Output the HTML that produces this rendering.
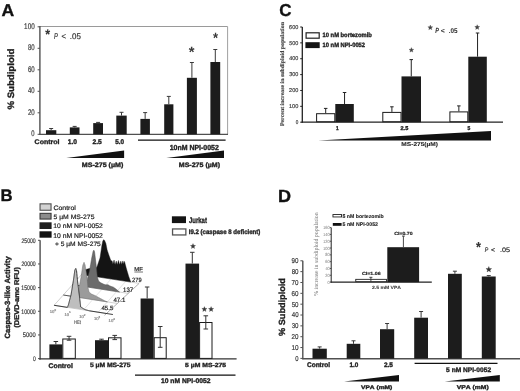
<!DOCTYPE html>
<html><head><meta charset="utf-8"><style>
html,body{margin:0;padding:0;background:#fff;overflow:hidden}
svg{display:block;will-change:transform;text-rendering:geometricPrecision}
</style></head><body>
<svg width="520" height="391" viewBox="0 0 520 391" shape-rendering="auto">
<rect width="520" height="391" fill="#fff"/>
<text transform="translate(1.56,15.60) scale(1.0255,1)" style="font-family:'Liberation Sans', sans-serif;font-weight:bold;font-style:normal;font-size:17.151px;font-kerning:none;font-variant-ligatures:none" fill="#111" stroke="#111" stroke-width="0.350">A</text>
<line x1="39.90" y1="26.50" x2="227.60" y2="26.50" stroke="#9a9a9a" stroke-width="1"/>
<line x1="227.60" y1="26.50" x2="227.60" y2="134.30" stroke="#a0a0a0" stroke-width="1"/>
<line x1="39.90" y1="26.00" x2="39.90" y2="134.90" stroke="#505050" stroke-width="1.4"/>
<line x1="39.20" y1="134.30" x2="228.00" y2="134.30" stroke="#505050" stroke-width="1.3"/>
<line x1="37.60" y1="134.30" x2="39.90" y2="134.30" stroke="#505050" stroke-width="1"/>
<text transform="translate(31.37,136.02) scale(0.7150,1)" style="font-family:'Liberation Sans', sans-serif;font-weight:normal;font-style:normal;font-size:8.192px;font-kerning:none;font-variant-ligatures:none" fill="#3c3c3c" stroke="#3c3c3c" stroke-width="0.200">0</text>
<line x1="37.60" y1="112.80" x2="39.90" y2="112.80" stroke="#505050" stroke-width="1"/>
<text transform="translate(27.90,114.52) scale(0.7399,1)" style="font-family:'Liberation Sans', sans-serif;font-weight:normal;font-style:normal;font-size:8.192px;font-kerning:none;font-variant-ligatures:none" fill="#3c3c3c" stroke="#3c3c3c" stroke-width="0.200">20</text>
<line x1="37.60" y1="91.30" x2="39.90" y2="91.30" stroke="#505050" stroke-width="1"/>
<text transform="translate(28.06,93.02) scale(0.7206,1)" style="font-family:'Liberation Sans', sans-serif;font-weight:normal;font-style:normal;font-size:8.192px;font-kerning:none;font-variant-ligatures:none" fill="#3c3c3c" stroke="#3c3c3c" stroke-width="0.200">40</text>
<line x1="37.60" y1="69.80" x2="39.90" y2="69.80" stroke="#505050" stroke-width="1"/>
<text transform="translate(27.89,71.52) scale(0.7402,1)" style="font-family:'Liberation Sans', sans-serif;font-weight:normal;font-style:normal;font-size:8.192px;font-kerning:none;font-variant-ligatures:none" fill="#3c3c3c" stroke="#3c3c3c" stroke-width="0.200">60</text>
<line x1="37.60" y1="48.30" x2="39.90" y2="48.30" stroke="#505050" stroke-width="1"/>
<text transform="translate(27.94,50.02) scale(0.7349,1)" style="font-family:'Liberation Sans', sans-serif;font-weight:normal;font-style:normal;font-size:8.192px;font-kerning:none;font-variant-ligatures:none" fill="#3c3c3c" stroke="#3c3c3c" stroke-width="0.200">80</text>
<line x1="37.60" y1="26.80" x2="39.90" y2="26.80" stroke="#505050" stroke-width="1"/>
<text transform="translate(24.12,28.52) scale(0.7702,1)" style="font-family:'Liberation Sans', sans-serif;font-weight:normal;font-style:normal;font-size:8.192px;font-kerning:none;font-variant-ligatures:none" fill="#3c3c3c" stroke="#3c3c3c" stroke-width="0.200">100</text>
<rect x="46.00" y="130.20" width="10.30" height="4.10" fill="#1c1c1c"/>
<line x1="51.15" y1="130.20" x2="51.15" y2="128.50" stroke="#3a3a3a" stroke-width="1"/>
<line x1="49.15" y1="128.50" x2="53.15" y2="128.50" stroke="#3a3a3a" stroke-width="1"/>
<rect x="69.80" y="127.40" width="9.70" height="6.90" fill="#1c1c1c"/>
<line x1="74.65" y1="127.40" x2="74.65" y2="126.40" stroke="#3a3a3a" stroke-width="1"/>
<line x1="72.65" y1="126.40" x2="76.65" y2="126.40" stroke="#3a3a3a" stroke-width="1"/>
<rect x="93.20" y="123.10" width="9.80" height="11.20" fill="#1c1c1c"/>
<line x1="98.10" y1="123.10" x2="98.10" y2="122.40" stroke="#3a3a3a" stroke-width="1"/>
<line x1="96.10" y1="122.40" x2="100.10" y2="122.40" stroke="#3a3a3a" stroke-width="1"/>
<rect x="116.30" y="115.60" width="10.40" height="18.70" fill="#1c1c1c"/>
<line x1="121.50" y1="115.60" x2="121.50" y2="112.30" stroke="#3a3a3a" stroke-width="1"/>
<line x1="119.50" y1="112.30" x2="123.50" y2="112.30" stroke="#3a3a3a" stroke-width="1"/>
<rect x="140.40" y="118.90" width="9.50" height="15.40" fill="#1c1c1c"/>
<line x1="145.15" y1="118.90" x2="145.15" y2="112.60" stroke="#3a3a3a" stroke-width="1"/>
<line x1="143.15" y1="112.60" x2="147.15" y2="112.60" stroke="#3a3a3a" stroke-width="1"/>
<rect x="164.20" y="104.30" width="9.20" height="30.00" fill="#1c1c1c"/>
<line x1="168.80" y1="104.30" x2="168.80" y2="96.40" stroke="#3a3a3a" stroke-width="1"/>
<line x1="166.80" y1="96.40" x2="170.80" y2="96.40" stroke="#3a3a3a" stroke-width="1"/>
<rect x="186.90" y="77.80" width="10.00" height="56.50" fill="#1c1c1c"/>
<line x1="191.90" y1="77.80" x2="191.90" y2="62.50" stroke="#3a3a3a" stroke-width="1"/>
<line x1="189.90" y1="62.50" x2="193.90" y2="62.50" stroke="#3a3a3a" stroke-width="1"/>
<rect x="210.40" y="62.00" width="9.80" height="72.30" fill="#1c1c1c"/>
<line x1="215.30" y1="62.00" x2="215.30" y2="49.50" stroke="#3a3a3a" stroke-width="1"/>
<line x1="213.30" y1="49.50" x2="217.30" y2="49.50" stroke="#3a3a3a" stroke-width="1"/>
<text transform="translate(188.86,56.77) scale(1.0009,1)" style="font-family:'Liberation Sans', sans-serif;font-weight:bold;font-style:normal;font-size:14.782px;font-kerning:none;font-variant-ligatures:none" fill="#3a3a3a">*</text>
<text transform="translate(212.96,42.75) scale(0.8623,1)" style="font-family:'Liberation Sans', sans-serif;font-weight:bold;font-style:normal;font-size:15.051px;font-kerning:none;font-variant-ligatures:none" fill="#3a3a3a">*</text>
<text transform="translate(45.26,38.62) scale(0.8915,1)" style="font-family:'Liberation Sans', sans-serif;font-weight:bold;font-style:normal;font-size:13.976px;font-kerning:none;font-variant-ligatures:none" fill="#333" stroke="#333" stroke-width="0.050">*</text>
<text transform="translate(54.12,38.90) scale(0.6968,1)" style="font-family:'Liberation Sans', sans-serif;font-weight:normal;font-style:italic;font-size:8.430px;font-kerning:none;font-variant-ligatures:none" fill="#333" stroke="#333" stroke-width="0.200">P</text>
<text transform="translate(61.51,38.82) scale(0.9457,1)" style="font-family:'Liberation Sans', sans-serif;font-weight:normal;font-style:normal;font-size:8.271px;font-kerning:none;font-variant-ligatures:none" fill="#333" stroke="#333" stroke-width="0.200">&lt;</text>
<text transform="translate(69.87,38.82) scale(0.9713,1)" style="font-family:'Liberation Sans', sans-serif;font-weight:normal;font-style:normal;font-size:8.192px;font-kerning:none;font-variant-ligatures:none" fill="#333" stroke="#333" stroke-width="0.200">.05</text>
<text transform="rotate(-90) translate(-109.54,13.89) scale(1.0419,1)" style="font-family:'Liberation Sans', sans-serif;font-weight:bold;font-style:normal;font-size:9.226px;font-kerning:none;font-variant-ligatures:none" fill="#1e1e1e" stroke="#1e1e1e" stroke-width="0.350">% Subdiploid</text>
<text transform="translate(34.61,144.13) scale(1.0535,1)" style="font-family:'Liberation Sans', sans-serif;font-weight:bold;font-style:normal;font-size:6.672px;font-kerning:none;font-variant-ligatures:none" fill="#1e1e1e" stroke="#1e1e1e" stroke-width="0.350">Control</text>
<text transform="translate(67.68,144.13) scale(0.9863,1)" style="font-family:'Liberation Sans', sans-serif;font-weight:bold;font-style:normal;font-size:6.780px;font-kerning:none;font-variant-ligatures:none" fill="#1e1e1e" stroke="#1e1e1e" stroke-width="0.350">1.0</text>
<text transform="translate(92.47,144.13) scale(0.9888,1)" style="font-family:'Liberation Sans', sans-serif;font-weight:bold;font-style:normal;font-size:6.780px;font-kerning:none;font-variant-ligatures:none" fill="#1e1e1e" stroke="#1e1e1e" stroke-width="0.350">2.5</text>
<text transform="translate(115.20,144.13) scale(0.9398,1)" style="font-family:'Liberation Sans', sans-serif;font-weight:bold;font-style:normal;font-size:6.780px;font-kerning:none;font-variant-ligatures:none" fill="#1e1e1e" stroke="#1e1e1e" stroke-width="0.350">5.0</text>
<polygon points="66.30,158.00 124.10,150.60 124.10,158.00" fill="#111" stroke="none" stroke-width="1"/>
<text transform="translate(81.83,166.66) scale(1.1026,1)" style="font-family:'Liberation Sans', sans-serif;font-weight:bold;font-style:normal;font-size:6.434px;font-kerning:none;font-variant-ligatures:none" fill="#1e1e1e" stroke="#1e1e1e" stroke-width="0.350">MS-275 (µM)</text>
<line x1="138.00" y1="140.20" x2="225.60" y2="140.20" stroke="#111" stroke-width="1.2"/>
<text transform="translate(169.66,149.73) scale(0.9513,1)" style="font-family:'Liberation Sans', sans-serif;font-weight:bold;font-style:normal;font-size:7.345px;font-kerning:none;font-variant-ligatures:none" fill="#1e1e1e" stroke="#1e1e1e" stroke-width="0.350">10nM NPI-0052</text>
<polygon points="166.30,158.00 224.00,150.60 224.00,158.00" fill="#111" stroke="none" stroke-width="1"/>
<text transform="translate(178.83,166.66) scale(1.0944,1)" style="font-family:'Liberation Sans', sans-serif;font-weight:bold;font-style:normal;font-size:6.434px;font-kerning:none;font-variant-ligatures:none" fill="#1e1e1e" stroke="#1e1e1e" stroke-width="0.350">MS-275 (µM)</text>
<text transform="translate(279.30,15.63) scale(0.9853,1)" style="font-family:'Liberation Sans', sans-serif;font-weight:bold;font-style:normal;font-size:17.231px;font-kerning:none;font-variant-ligatures:none" fill="#111" stroke="#111" stroke-width="0.350">C</text>
<line x1="302.30" y1="27.00" x2="302.30" y2="122.80" stroke="#222" stroke-width="1.3"/>
<line x1="301.60" y1="122.20" x2="503.00" y2="122.20" stroke="#222" stroke-width="1.3"/>
<line x1="300.20" y1="122.20" x2="302.30" y2="122.20" stroke="#222" stroke-width="1"/>
<text transform="translate(295.72,123.94) scale(0.8146,1)" style="font-family:'Liberation Sans', sans-serif;font-weight:normal;font-style:normal;font-size:5.650px;font-kerning:none;font-variant-ligatures:none" fill="#444" stroke="#444" stroke-width="0.200">0</text>
<line x1="300.20" y1="106.33" x2="302.30" y2="106.33" stroke="#222" stroke-width="1"/>
<text transform="translate(288.97,108.08) scale(0.9914,1)" style="font-family:'Liberation Sans', sans-serif;font-weight:normal;font-style:normal;font-size:5.650px;font-kerning:none;font-variant-ligatures:none" fill="#444" stroke="#444" stroke-width="0.200">100</text>
<line x1="300.20" y1="90.47" x2="302.30" y2="90.47" stroke="#222" stroke-width="1"/>
<text transform="translate(289.12,92.21) scale(0.9752,1)" style="font-family:'Liberation Sans', sans-serif;font-weight:normal;font-style:normal;font-size:5.650px;font-kerning:none;font-variant-ligatures:none" fill="#444" stroke="#444" stroke-width="0.200">200</text>
<line x1="300.20" y1="74.60" x2="302.30" y2="74.60" stroke="#222" stroke-width="1"/>
<text transform="translate(289.19,76.34) scale(0.9677,1)" style="font-family:'Liberation Sans', sans-serif;font-weight:normal;font-style:normal;font-size:5.650px;font-kerning:none;font-variant-ligatures:none" fill="#444" stroke="#444" stroke-width="0.200">300</text>
<line x1="300.20" y1="58.73" x2="302.30" y2="58.73" stroke="#222" stroke-width="1"/>
<text transform="translate(289.28,60.48) scale(0.9586,1)" style="font-family:'Liberation Sans', sans-serif;font-weight:normal;font-style:normal;font-size:5.650px;font-kerning:none;font-variant-ligatures:none" fill="#444" stroke="#444" stroke-width="0.200">400</text>
<line x1="300.20" y1="42.87" x2="302.30" y2="42.87" stroke="#222" stroke-width="1"/>
<text transform="translate(289.18,44.61) scale(0.9689,1)" style="font-family:'Liberation Sans', sans-serif;font-weight:normal;font-style:normal;font-size:5.650px;font-kerning:none;font-variant-ligatures:none" fill="#444" stroke="#444" stroke-width="0.200">500</text>
<line x1="300.20" y1="27.00" x2="302.30" y2="27.00" stroke="#222" stroke-width="1"/>
<text transform="translate(289.12,28.74) scale(0.9755,1)" style="font-family:'Liberation Sans', sans-serif;font-weight:normal;font-style:normal;font-size:5.650px;font-kerning:none;font-variant-ligatures:none" fill="#444" stroke="#444" stroke-width="0.200">600</text>
<rect x="306.10" y="32.80" width="13.10" height="5.40" fill="#fff" stroke="#222" stroke-width="1.2"/>
<rect x="305.40" y="42.20" width="14.30" height="5.90" fill="#141414"/>
<text transform="translate(322.53,37.44) scale(0.9279,1)" style="font-family:'Liberation Sans', sans-serif;font-weight:bold;font-style:normal;font-size:6.264px;font-kerning:none;font-variant-ligatures:none" fill="#1e1e1e" stroke="#1e1e1e" stroke-width="0.350">10 nM bortezomib</text>
<text transform="translate(322.53,47.24) scale(0.9136,1)" style="font-family:'Liberation Sans', sans-serif;font-weight:bold;font-style:normal;font-size:6.356px;font-kerning:none;font-variant-ligatures:none" fill="#1e1e1e" stroke="#1e1e1e" stroke-width="0.350">10 nM NPI-0052</text>
<text transform="rotate(-90) translate(-126.10,284.40) scale(1.0461,1)" style="font-family:'Liberation Serif', serif;font-weight:bold;font-style:normal;font-size:5.625px;font-kerning:none;font-variant-ligatures:none" fill="#444" stroke="#444" stroke-width="0.150">Percent increase in subdiploid population</text>
<line x1="325.70" y1="113.20" x2="325.70" y2="108.40" stroke="#222" stroke-width="1"/>
<line x1="323.95" y1="108.40" x2="327.45" y2="108.40" stroke="#222" stroke-width="1"/>
<rect x="316.60" y="113.70" width="18.20" height="8.00" fill="#fff" stroke="#1a1a1a" stroke-width="1"/>
<rect x="335.30" y="104.00" width="18.50" height="18.20" fill="#1c1c1c"/>
<line x1="344.55" y1="104.00" x2="344.55" y2="92.50" stroke="#222" stroke-width="1"/>
<line x1="342.80" y1="92.50" x2="346.30" y2="92.50" stroke="#222" stroke-width="1"/>
<line x1="391.90" y1="111.90" x2="391.90" y2="106.80" stroke="#222" stroke-width="1"/>
<line x1="390.15" y1="106.80" x2="393.65" y2="106.80" stroke="#222" stroke-width="1"/>
<rect x="382.80" y="112.40" width="18.20" height="9.30" fill="#fff" stroke="#1a1a1a" stroke-width="1"/>
<rect x="401.50" y="76.40" width="19.50" height="45.80" fill="#1c1c1c"/>
<line x1="411.25" y1="76.40" x2="411.25" y2="59.60" stroke="#222" stroke-width="1"/>
<line x1="409.50" y1="59.60" x2="413.00" y2="59.60" stroke="#222" stroke-width="1"/>
<line x1="458.85" y1="111.40" x2="458.85" y2="105.90" stroke="#222" stroke-width="1"/>
<line x1="457.10" y1="105.90" x2="460.60" y2="105.90" stroke="#222" stroke-width="1"/>
<rect x="449.90" y="111.90" width="17.90" height="9.80" fill="#fff" stroke="#1a1a1a" stroke-width="1"/>
<rect x="468.30" y="56.70" width="18.50" height="65.50" fill="#1c1c1c"/>
<line x1="477.55" y1="56.70" x2="477.55" y2="33.00" stroke="#222" stroke-width="1"/>
<line x1="475.80" y1="33.00" x2="479.30" y2="33.00" stroke="#222" stroke-width="1"/>
<polygon points="411.40,47.60 412.05,49.21 413.78,49.33 412.45,50.44 412.87,52.12 411.40,51.20 409.93,52.12 410.35,50.44 409.02,49.33 410.75,49.21" fill="#444" stroke="#444" stroke-width="0.3"/>
<polygon points="477.20,24.70 477.88,26.37 479.67,26.50 478.29,27.66 478.73,29.40 477.20,28.45 475.67,29.40 476.11,27.66 474.73,26.50 476.52,26.37" fill="#444" stroke="#444" stroke-width="0.3"/>
<text transform="translate(336.00,129.70) scale(0.8340,1)" style="font-family:'Liberation Sans', sans-serif;font-weight:bold;font-style:normal;font-size:5.669px;font-kerning:none;font-variant-ligatures:none" fill="#222" stroke="#222" stroke-width="0.350">1</text>
<text transform="translate(400.51,129.65) scale(1.0119,1)" style="font-family:'Liberation Sans', sans-serif;font-weight:bold;font-style:normal;font-size:5.508px;font-kerning:none;font-variant-ligatures:none" fill="#222" stroke="#222" stroke-width="0.350">2.5</text>
<text transform="translate(467.45,129.65) scale(0.8989,1)" style="font-family:'Liberation Sans', sans-serif;font-weight:bold;font-style:normal;font-size:5.589px;font-kerning:none;font-variant-ligatures:none" fill="#222" stroke="#222" stroke-width="0.350">5</text>
<polygon points="318.00,140.50 491.00,131.00 491.00,140.50" fill="#111" stroke="none" stroke-width="1"/>
<text transform="translate(401.36,145.84) scale(1.1792,1)" style="font-family:'Liberation Sans', sans-serif;font-weight:bold;font-style:normal;font-size:5.576px;font-kerning:none;font-variant-ligatures:none" fill="#1e1e1e" stroke="#1e1e1e" stroke-width="0.100">MS-275(µM)</text>
<polygon points="430.30,25.00 430.98,26.67 432.77,26.80 431.39,27.96 431.83,29.70 430.30,28.75 428.77,29.70 429.21,27.96 427.83,26.80 429.62,26.67" fill="#444" stroke="#444" stroke-width="0.3"/>
<text transform="translate(435.20,33.10) scale(0.7318,1)" style="font-family:'Liberation Sans', sans-serif;font-weight:bold;font-style:italic;font-size:7.558px;font-kerning:none;font-variant-ligatures:none" fill="#333" stroke="#333" stroke-width="0.050">P</text>
<text transform="translate(440.82,32.81) scale(1.0153,1)" style="font-family:'Liberation Sans', sans-serif;font-weight:bold;font-style:normal;font-size:6.678px;font-kerning:none;font-variant-ligatures:none" fill="#333" stroke="#333" stroke-width="0.050">&lt;</text>
<text transform="translate(448.67,32.93) scale(0.9344,1)" style="font-family:'Liberation Sans', sans-serif;font-weight:bold;font-style:normal;font-size:6.780px;font-kerning:none;font-variant-ligatures:none" fill="#333" stroke="#333" stroke-width="0.050">.05</text>
<text transform="translate(0.58,201.00) scale(1.0006,1)" style="font-family:'Liberation Sans', sans-serif;font-weight:bold;font-style:normal;font-size:16.715px;font-kerning:none;font-variant-ligatures:none" fill="#111" stroke="#111" stroke-width="0.350">B</text>
<line x1="40.10" y1="240.20" x2="40.10" y2="359.50" stroke="#505050" stroke-width="1.4"/>
<line x1="39.00" y1="358.90" x2="236.60" y2="358.90" stroke="#333" stroke-width="1.2"/>
<line x1="38.00" y1="358.60" x2="40.10" y2="358.60" stroke="#505050" stroke-width="1"/>
<text transform="translate(32.90,360.84) scale(0.7563,1)" style="font-family:'Liberation Sans', sans-serif;font-weight:normal;font-style:normal;font-size:6.638px;font-kerning:none;font-variant-ligatures:none" fill="#3c3c3c" stroke="#3c3c3c" stroke-width="0.200">0</text>
<line x1="38.00" y1="334.94" x2="40.10" y2="334.94" stroke="#505050" stroke-width="1"/>
<text transform="translate(22.87,337.18) scale(0.8706,1)" style="font-family:'Liberation Sans', sans-serif;font-weight:normal;font-style:normal;font-size:6.638px;font-kerning:none;font-variant-ligatures:none" fill="#3c3c3c" stroke="#3c3c3c" stroke-width="0.200">5000</text>
<line x1="38.00" y1="311.28" x2="40.10" y2="311.28" stroke="#505050" stroke-width="1"/>
<text transform="translate(21.31,313.52) scale(0.7799,1)" style="font-family:'Liberation Sans', sans-serif;font-weight:normal;font-style:normal;font-size:6.638px;font-kerning:none;font-variant-ligatures:none" fill="#3c3c3c" stroke="#3c3c3c" stroke-width="0.200">10000</text>
<line x1="38.00" y1="287.62" x2="40.10" y2="287.62" stroke="#505050" stroke-width="1"/>
<text transform="translate(21.31,289.86) scale(0.7799,1)" style="font-family:'Liberation Sans', sans-serif;font-weight:normal;font-style:normal;font-size:6.638px;font-kerning:none;font-variant-ligatures:none" fill="#3c3c3c" stroke="#3c3c3c" stroke-width="0.200">15000</text>
<line x1="38.00" y1="263.96" x2="40.10" y2="263.96" stroke="#505050" stroke-width="1"/>
<text transform="translate(21.44,266.20) scale(0.7724,1)" style="font-family:'Liberation Sans', sans-serif;font-weight:normal;font-style:normal;font-size:6.638px;font-kerning:none;font-variant-ligatures:none" fill="#3c3c3c" stroke="#3c3c3c" stroke-width="0.200">20000</text>
<line x1="38.00" y1="240.30" x2="40.10" y2="240.30" stroke="#505050" stroke-width="1"/>
<text transform="translate(21.44,242.54) scale(0.7724,1)" style="font-family:'Liberation Sans', sans-serif;font-weight:normal;font-style:normal;font-size:6.638px;font-kerning:none;font-variant-ligatures:none" fill="#3c3c3c" stroke="#3c3c3c" stroke-width="0.200">25000</text>
<text transform="rotate(-90) translate(-338.41,9.74) scale(1.0041,1)" style="font-family:'Liberation Sans', sans-serif;font-weight:bold;font-style:normal;font-size:7.510px;font-kerning:none;font-variant-ligatures:none" fill="#1e1e1e" stroke="#1e1e1e" stroke-width="0.350">Caspase-3-like Activity</text>
<text transform="rotate(-90) translate(-327.77,18.78) scale(1.0925,1)" style="font-family:'Liberation Sans', sans-serif;font-weight:bold;font-style:normal;font-size:6.866px;font-kerning:none;font-variant-ligatures:none" fill="#1e1e1e" stroke="#1e1e1e" stroke-width="0.350">(DEVD-amc RFU)</text>
<rect x="40.05" y="203.85" width="11.00" height="6.40" fill="#d2d2d2" stroke="#505050" stroke-width="1.1"/>
<rect x="40.05" y="213.35" width="11.00" height="5.70" fill="#8c8c8c" stroke="#3a3a3a" stroke-width="1.1"/>
<rect x="39.50" y="222.30" width="12.10" height="6.70" fill="#1e1e1e"/>
<rect x="39.50" y="231.30" width="12.10" height="6.40" fill="#121212"/>
<text transform="translate(53.45,210.04) scale(1.0866,1)" style="font-family:'Liberation Sans', sans-serif;font-weight:normal;font-style:normal;font-size:6.400px;font-kerning:none;font-variant-ligatures:none" fill="#222" stroke="#222" stroke-width="0.200">Control</text>
<text transform="translate(53.53,218.99) scale(1.0807,1)" style="font-family:'Liberation Sans', sans-serif;font-weight:normal;font-style:normal;font-size:6.293px;font-kerning:none;font-variant-ligatures:none" fill="#222" stroke="#222" stroke-width="0.200">5 µM MS-275</text>
<text transform="translate(53.28,228.24) scale(1.0253,1)" style="font-family:'Liberation Sans', sans-serif;font-weight:normal;font-style:normal;font-size:6.638px;font-kerning:none;font-variant-ligatures:none" fill="#222" stroke="#222" stroke-width="0.200">10 nM NPI-0052</text>
<text transform="translate(53.28,237.93) scale(1.0039,1)" style="font-family:'Liberation Sans', sans-serif;font-weight:normal;font-style:normal;font-size:6.780px;font-kerning:none;font-variant-ligatures:none" fill="#222" stroke="#222" stroke-width="0.200">10 nM NPI-0052</text>
<text transform="translate(54.97,246.49) scale(1.0596,1)" style="font-family:'Liberation Sans', sans-serif;font-weight:normal;font-style:normal;font-size:6.293px;font-kerning:none;font-variant-ligatures:none" fill="#222" stroke="#222" stroke-width="0.200">+ 5 µM MS-275</text>
<rect x="171.90" y="216.30" width="14.10" height="6.80" fill="#141414"/>
<rect x="172.55" y="228.95" width="13.30" height="6.00" fill="#fff" stroke="#555" stroke-width="1.3"/>
<text transform="translate(189.01,223.12) scale(0.7450,1)" style="font-family:'Liberation Sans', sans-serif;font-weight:bold;font-style:normal;font-size:8.034px;font-kerning:none;font-variant-ligatures:none" fill="#1e1e1e" stroke="#1e1e1e" stroke-width="0.350">Jurkat</text>
<text transform="translate(188.69,234.02) scale(0.9162,1)" style="font-family:'Liberation Sans', sans-serif;font-weight:bold;font-style:normal;font-size:6.651px;font-kerning:none;font-variant-ligatures:none" fill="#1e1e1e" stroke="#1e1e1e" stroke-width="0.350">I9.2 (caspase 8 deficient)</text>
<rect x="49.40" y="344.40" width="12.90" height="14.50" fill="#1c1c1c"/>
<line x1="55.85" y1="344.40" x2="55.85" y2="341.50" stroke="#333" stroke-width="1"/>
<line x1="53.60" y1="341.50" x2="58.10" y2="341.50" stroke="#333" stroke-width="1"/>
<rect x="62.80" y="339.00" width="12.50" height="19.40" fill="#fff" stroke="#1a1a1a" stroke-width="1"/>
<line x1="69.05" y1="340.20" x2="69.05" y2="336.30" stroke="#333" stroke-width="1"/>
<line x1="66.75" y1="336.30" x2="71.35" y2="336.30" stroke="#333" stroke-width="1"/>
<line x1="66.75" y1="340.20" x2="71.35" y2="340.20" stroke="#333" stroke-width="1"/>
<rect x="95.00" y="340.20" width="13.00" height="18.70" fill="#1c1c1c"/>
<line x1="101.50" y1="340.20" x2="101.50" y2="339.20" stroke="#333" stroke-width="1"/>
<line x1="99.25" y1="339.20" x2="103.75" y2="339.20" stroke="#333" stroke-width="1"/>
<rect x="108.50" y="337.80" width="12.50" height="20.60" fill="#fff" stroke="#1a1a1a" stroke-width="1"/>
<line x1="114.75" y1="339.60" x2="114.75" y2="335.40" stroke="#333" stroke-width="1"/>
<line x1="112.45" y1="335.40" x2="117.05" y2="335.40" stroke="#333" stroke-width="1"/>
<line x1="112.45" y1="339.60" x2="117.05" y2="339.60" stroke="#333" stroke-width="1"/>
<rect x="140.60" y="298.50" width="13.10" height="60.40" fill="#1c1c1c"/>
<line x1="147.15" y1="298.50" x2="147.15" y2="287.00" stroke="#333" stroke-width="1"/>
<line x1="144.90" y1="287.00" x2="149.40" y2="287.00" stroke="#333" stroke-width="1"/>
<rect x="154.20" y="337.70" width="12.00" height="20.70" fill="#fff" stroke="#1a1a1a" stroke-width="1"/>
<line x1="160.20" y1="347.30" x2="160.20" y2="326.50" stroke="#333" stroke-width="1"/>
<line x1="157.90" y1="326.50" x2="162.50" y2="326.50" stroke="#333" stroke-width="1"/>
<line x1="157.90" y1="347.30" x2="162.50" y2="347.30" stroke="#333" stroke-width="1"/>
<rect x="185.50" y="263.60" width="13.60" height="95.30" fill="#1c1c1c"/>
<line x1="192.30" y1="263.60" x2="192.30" y2="252.30" stroke="#333" stroke-width="1"/>
<line x1="190.05" y1="252.30" x2="194.55" y2="252.30" stroke="#333" stroke-width="1"/>
<rect x="199.60" y="322.50" width="12.40" height="35.90" fill="#fff" stroke="#1a1a1a" stroke-width="1"/>
<line x1="205.80" y1="329.00" x2="205.80" y2="315.80" stroke="#333" stroke-width="1"/>
<line x1="203.50" y1="315.80" x2="208.10" y2="315.80" stroke="#333" stroke-width="1"/>
<line x1="203.50" y1="329.00" x2="208.10" y2="329.00" stroke="#333" stroke-width="1"/>
<polygon points="193.00,243.60 193.68,245.37 195.57,245.47 194.09,246.66 194.59,248.48 193.00,247.45 191.41,248.48 191.91,246.66 190.43,245.47 192.32,245.37" fill="#3a3a3a" stroke="#3a3a3a" stroke-width="0.3"/>
<polygon points="204.40,306.60 205.08,308.37 206.97,308.47 205.49,309.66 205.99,311.48 204.40,310.45 202.81,311.48 203.31,309.66 201.83,308.47 203.72,308.37" fill="#3a3a3a" stroke="#3a3a3a" stroke-width="0.3"/>
<polygon points="211.10,306.60 211.78,308.37 213.67,308.47 212.19,309.66 212.69,311.48 211.10,310.45 209.51,311.48 210.01,309.66 208.53,308.47 210.42,308.37" fill="#3a3a3a" stroke="#3a3a3a" stroke-width="0.3"/>
<text transform="translate(48.52,367.83) scale(1.0068,1)" style="font-family:'Liberation Sans', sans-serif;font-weight:bold;font-style:normal;font-size:6.809px;font-kerning:none;font-variant-ligatures:none" fill="#1e1e1e" stroke="#1e1e1e" stroke-width="0.350">Control</text>
<text transform="translate(89.89,366.99) scale(1.0770,1)" style="font-family:'Liberation Sans', sans-serif;font-weight:bold;font-style:normal;font-size:6.290px;font-kerning:none;font-variant-ligatures:none" fill="#1e1e1e" stroke="#1e1e1e" stroke-width="0.350">5 µM MS-275</text>
<text transform="translate(185.09,367.26) scale(1.1453,1)" style="font-family:'Liberation Sans', sans-serif;font-weight:bold;font-style:normal;font-size:5.959px;font-kerning:none;font-variant-ligatures:none" fill="#1e1e1e" stroke="#1e1e1e" stroke-width="0.350">5 µM MS-275</text>
<line x1="135.00" y1="375.20" x2="235.50" y2="375.20" stroke="#111" stroke-width="1.2"/>
<text transform="translate(160.98,383.33) scale(0.9951,1)" style="font-family:'Liberation Sans', sans-serif;font-weight:bold;font-style:normal;font-size:6.780px;font-kerning:none;font-variant-ligatures:none" fill="#1e1e1e" stroke="#1e1e1e" stroke-width="0.350">10 nM NPI-0052</text>
<text transform="translate(277.89,201.60) scale(1.0291,1)" style="font-family:'Liberation Sans', sans-serif;font-weight:bold;font-style:normal;font-size:17.588px;font-kerning:none;font-variant-ligatures:none" fill="#111" stroke="#111" stroke-width="0.350">D</text>
<line x1="302.80" y1="260.80" x2="302.80" y2="359.20" stroke="#505050" stroke-width="1.4"/>
<line x1="302.20" y1="358.70" x2="520.00" y2="358.70" stroke="#505050" stroke-width="1.4"/>
<line x1="300.40" y1="358.40" x2="302.80" y2="358.40" stroke="#505050" stroke-width="1"/>
<text transform="translate(295.27,360.73) scale(0.8294,1)" style="font-family:'Liberation Sans', sans-serif;font-weight:normal;font-style:normal;font-size:7.062px;font-kerning:none;font-variant-ligatures:none" fill="#3c3c3c" stroke="#3c3c3c" stroke-width="0.200">0</text>
<line x1="300.40" y1="347.56" x2="302.80" y2="347.56" stroke="#505050" stroke-width="1"/>
<text transform="translate(291.41,349.89) scale(0.9089,1)" style="font-family:'Liberation Sans', sans-serif;font-weight:normal;font-style:normal;font-size:7.062px;font-kerning:none;font-variant-ligatures:none" fill="#3c3c3c" stroke="#3c3c3c" stroke-width="0.200">10</text>
<line x1="300.40" y1="336.71" x2="302.80" y2="336.71" stroke="#505050" stroke-width="1"/>
<text transform="translate(291.59,339.04) scale(0.8859,1)" style="font-family:'Liberation Sans', sans-serif;font-weight:normal;font-style:normal;font-size:7.062px;font-kerning:none;font-variant-ligatures:none" fill="#3c3c3c" stroke="#3c3c3c" stroke-width="0.200">20</text>
<line x1="300.40" y1="325.87" x2="302.80" y2="325.87" stroke="#505050" stroke-width="1"/>
<text transform="translate(291.66,328.20) scale(0.8755,1)" style="font-family:'Liberation Sans', sans-serif;font-weight:normal;font-style:normal;font-size:7.062px;font-kerning:none;font-variant-ligatures:none" fill="#3c3c3c" stroke="#3c3c3c" stroke-width="0.200">30</text>
<line x1="300.40" y1="315.02" x2="302.80" y2="315.02" stroke="#505050" stroke-width="1"/>
<text transform="translate(291.76,317.35) scale(0.8629,1)" style="font-family:'Liberation Sans', sans-serif;font-weight:normal;font-style:normal;font-size:7.062px;font-kerning:none;font-variant-ligatures:none" fill="#3c3c3c" stroke="#3c3c3c" stroke-width="0.200">40</text>
<line x1="300.40" y1="304.18" x2="302.80" y2="304.18" stroke="#505050" stroke-width="1"/>
<text transform="translate(291.65,306.51) scale(0.8771,1)" style="font-family:'Liberation Sans', sans-serif;font-weight:normal;font-style:normal;font-size:7.062px;font-kerning:none;font-variant-ligatures:none" fill="#3c3c3c" stroke="#3c3c3c" stroke-width="0.200">50</text>
<line x1="300.40" y1="293.33" x2="302.80" y2="293.33" stroke="#505050" stroke-width="1"/>
<text transform="translate(291.58,295.66) scale(0.8863,1)" style="font-family:'Liberation Sans', sans-serif;font-weight:normal;font-style:normal;font-size:7.062px;font-kerning:none;font-variant-ligatures:none" fill="#3c3c3c" stroke="#3c3c3c" stroke-width="0.200">60</text>
<line x1="300.40" y1="282.49" x2="302.80" y2="282.49" stroke="#505050" stroke-width="1"/>
<text transform="translate(291.58,284.82) scale(0.8868,1)" style="font-family:'Liberation Sans', sans-serif;font-weight:normal;font-style:normal;font-size:7.062px;font-kerning:none;font-variant-ligatures:none" fill="#3c3c3c" stroke="#3c3c3c" stroke-width="0.200">70</text>
<line x1="300.40" y1="271.64" x2="302.80" y2="271.64" stroke="#505050" stroke-width="1"/>
<text transform="translate(291.63,273.98) scale(0.8800,1)" style="font-family:'Liberation Sans', sans-serif;font-weight:normal;font-style:normal;font-size:7.062px;font-kerning:none;font-variant-ligatures:none" fill="#3c3c3c" stroke="#3c3c3c" stroke-width="0.200">80</text>
<line x1="300.40" y1="260.80" x2="302.80" y2="260.80" stroke="#505050" stroke-width="1"/>
<text transform="translate(291.61,263.13) scale(0.8830,1)" style="font-family:'Liberation Sans', sans-serif;font-weight:normal;font-style:normal;font-size:7.062px;font-kerning:none;font-variant-ligatures:none" fill="#3c3c3c" stroke="#3c3c3c" stroke-width="0.200">90</text>
<text transform="rotate(-90) translate(-335.93,284.95) scale(1.0274,1)" style="font-family:'Liberation Sans', sans-serif;font-weight:bold;font-style:normal;font-size:8.904px;font-kerning:none;font-variant-ligatures:none" fill="#1e1e1e" stroke="#1e1e1e" stroke-width="0.350">% Subdiploid</text>
<rect x="312.50" y="348.70" width="14.30" height="9.90" fill="#1c1c1c"/>
<line x1="319.65" y1="348.70" x2="319.65" y2="346.90" stroke="#3a3a3a" stroke-width="1"/>
<line x1="317.65" y1="346.90" x2="321.65" y2="346.90" stroke="#3a3a3a" stroke-width="1"/>
<rect x="346.70" y="343.80" width="13.60" height="14.80" fill="#1c1c1c"/>
<line x1="353.50" y1="343.80" x2="353.50" y2="340.80" stroke="#3a3a3a" stroke-width="1"/>
<line x1="351.50" y1="340.80" x2="355.50" y2="340.80" stroke="#3a3a3a" stroke-width="1"/>
<rect x="380.00" y="329.20" width="14.20" height="29.40" fill="#1c1c1c"/>
<line x1="387.10" y1="329.20" x2="387.10" y2="323.50" stroke="#3a3a3a" stroke-width="1"/>
<line x1="385.10" y1="323.50" x2="389.10" y2="323.50" stroke="#3a3a3a" stroke-width="1"/>
<rect x="414.20" y="317.70" width="13.80" height="40.90" fill="#1c1c1c"/>
<line x1="421.10" y1="317.70" x2="421.10" y2="311.50" stroke="#3a3a3a" stroke-width="1"/>
<line x1="419.10" y1="311.50" x2="423.10" y2="311.50" stroke="#3a3a3a" stroke-width="1"/>
<rect x="448.00" y="273.80" width="13.80" height="84.80" fill="#1c1c1c"/>
<line x1="454.90" y1="273.80" x2="454.90" y2="271.20" stroke="#3a3a3a" stroke-width="1"/>
<line x1="452.90" y1="271.20" x2="456.90" y2="271.20" stroke="#3a3a3a" stroke-width="1"/>
<rect x="481.80" y="276.50" width="13.90" height="82.10" fill="#1c1c1c"/>
<line x1="488.75" y1="276.50" x2="488.75" y2="275.60" stroke="#3a3a3a" stroke-width="1"/>
<line x1="486.75" y1="275.60" x2="490.75" y2="275.60" stroke="#3a3a3a" stroke-width="1"/>
<polygon points="488.80,266.50 489.56,268.45 491.65,268.57 490.04,269.90 490.56,271.93 488.80,270.80 487.04,271.93 487.56,269.90 485.95,268.57 488.04,268.45" fill="#333" stroke="#333" stroke-width="0.3"/>
<text transform="translate(306.93,367.03) scale(0.9599,1)" style="font-family:'Liberation Sans', sans-serif;font-weight:bold;font-style:normal;font-size:6.809px;font-kerning:none;font-variant-ligatures:none" fill="#1e1e1e" stroke="#1e1e1e" stroke-width="0.350">Control</text>
<text transform="translate(349.40,367.04) scale(0.9813,1)" style="font-family:'Liberation Sans', sans-serif;font-weight:bold;font-style:normal;font-size:6.497px;font-kerning:none;font-variant-ligatures:none" fill="#1e1e1e" stroke="#1e1e1e" stroke-width="0.350">1.0</text>
<text transform="translate(383.88,367.04) scale(0.9970,1)" style="font-family:'Liberation Sans', sans-serif;font-weight:bold;font-style:normal;font-size:6.497px;font-kerning:none;font-variant-ligatures:none" fill="#1e1e1e" stroke="#1e1e1e" stroke-width="0.350">2.5</text>
<polygon points="344.10,381.60 399.00,374.90 399.00,381.60" fill="#111" stroke="none" stroke-width="1"/>
<text transform="translate(361.05,388.75) scale(1.3135,1)" style="font-family:'Liberation Sans', sans-serif;font-weight:bold;font-style:normal;font-size:5.042px;font-kerning:none;font-variant-ligatures:none" fill="#1e1e1e" stroke="#1e1e1e" stroke-width="0.350">VPA (mM)</text>
<line x1="414.60" y1="363.30" x2="497.50" y2="363.30" stroke="#111" stroke-width="1.2"/>
<text transform="translate(446.10,371.84) scale(1.0014,1)" style="font-family:'Liberation Sans', sans-serif;font-weight:bold;font-style:normal;font-size:6.638px;font-kerning:none;font-variant-ligatures:none" fill="#1e1e1e" stroke="#1e1e1e" stroke-width="0.350">5 nM NPI-0052</text>
<polygon points="444.80,381.60 499.80,374.90 499.80,381.60" fill="#111" stroke="none" stroke-width="1"/>
<text transform="translate(456.75,388.64) scale(1.2180,1)" style="font-family:'Liberation Sans', sans-serif;font-weight:bold;font-style:normal;font-size:5.579px;font-kerning:none;font-variant-ligatures:none" fill="#1e1e1e" stroke="#1e1e1e" stroke-width="0.350">VPA (mM)</text>
<text transform="translate(475.96,252.39) scale(0.8764,1)" style="font-family:'Liberation Sans', sans-serif;font-weight:bold;font-style:normal;font-size:14.513px;font-kerning:none;font-variant-ligatures:none" fill="#333" stroke="#333" stroke-width="0.100">*</text>
<text transform="translate(484.64,251.80) scale(0.7836,1)" style="font-family:'Liberation Sans', sans-serif;font-weight:normal;font-style:italic;font-size:6.686px;font-kerning:none;font-variant-ligatures:none" fill="#333" stroke="#333" stroke-width="0.200">P</text>
<text transform="translate(490.95,251.79) scale(1.0769,1)" style="font-family:'Liberation Sans', sans-serif;font-weight:normal;font-style:normal;font-size:6.498px;font-kerning:none;font-variant-ligatures:none" fill="#333" stroke="#333" stroke-width="0.200">&lt;</text>
<text transform="translate(499.94,251.74) scale(1.1144,1)" style="font-family:'Liberation Sans', sans-serif;font-weight:normal;font-style:normal;font-size:6.497px;font-kerning:none;font-variant-ligatures:none" fill="#333" stroke="#333" stroke-width="0.200">.05</text>
<line x1="331.20" y1="227.60" x2="331.20" y2="282.60" stroke="#222" stroke-width="1"/>
<line x1="330.70" y1="282.10" x2="431.80" y2="282.10" stroke="#222" stroke-width="1.1"/>
<line x1="329.80" y1="282.10" x2="331.20" y2="282.10" stroke="#333" stroke-width="0.8"/>
<text transform="translate(327.55,283.66) scale(0.8331,1)" style="font-family:'Liberation Sans', sans-serif;font-weight:normal;font-style:normal;font-size:4.520px;font-kerning:none;font-variant-ligatures:none" fill="#7a7a7a">0</text>
<line x1="329.80" y1="275.29" x2="331.20" y2="275.29" stroke="#333" stroke-width="0.8"/>
<text transform="translate(325.30,276.84) scale(0.8652,1)" style="font-family:'Liberation Sans', sans-serif;font-weight:normal;font-style:normal;font-size:4.520px;font-kerning:none;font-variant-ligatures:none" fill="#7a7a7a">20</text>
<line x1="329.80" y1="268.48" x2="331.20" y2="268.48" stroke="#333" stroke-width="0.8"/>
<text transform="translate(325.41,270.03) scale(0.8426,1)" style="font-family:'Liberation Sans', sans-serif;font-weight:normal;font-style:normal;font-size:4.520px;font-kerning:none;font-variant-ligatures:none" fill="#7a7a7a">40</text>
<line x1="329.80" y1="261.66" x2="331.20" y2="261.66" stroke="#333" stroke-width="0.8"/>
<text transform="translate(325.30,263.22) scale(0.8656,1)" style="font-family:'Liberation Sans', sans-serif;font-weight:normal;font-style:normal;font-size:4.520px;font-kerning:none;font-variant-ligatures:none" fill="#7a7a7a">60</text>
<line x1="329.80" y1="254.85" x2="331.20" y2="254.85" stroke="#333" stroke-width="0.8"/>
<text transform="translate(325.33,256.41) scale(0.8594,1)" style="font-family:'Liberation Sans', sans-serif;font-weight:normal;font-style:normal;font-size:4.520px;font-kerning:none;font-variant-ligatures:none" fill="#7a7a7a">80</text>
<line x1="329.80" y1="248.04" x2="331.20" y2="248.04" stroke="#333" stroke-width="0.8"/>
<text transform="translate(323.10,249.59) scale(0.8689,1)" style="font-family:'Liberation Sans', sans-serif;font-weight:normal;font-style:normal;font-size:4.520px;font-kerning:none;font-variant-ligatures:none" fill="#7a7a7a">100</text>
<line x1="329.80" y1="241.22" x2="331.20" y2="241.22" stroke="#333" stroke-width="0.8"/>
<text transform="translate(323.10,242.78) scale(0.8689,1)" style="font-family:'Liberation Sans', sans-serif;font-weight:normal;font-style:normal;font-size:4.520px;font-kerning:none;font-variant-ligatures:none" fill="#7a7a7a">120</text>
<line x1="329.80" y1="234.41" x2="331.20" y2="234.41" stroke="#333" stroke-width="0.8"/>
<text transform="translate(323.10,235.97) scale(0.8689,1)" style="font-family:'Liberation Sans', sans-serif;font-weight:normal;font-style:normal;font-size:4.520px;font-kerning:none;font-variant-ligatures:none" fill="#7a7a7a">140</text>
<line x1="329.80" y1="227.60" x2="331.20" y2="227.60" stroke="#333" stroke-width="0.8"/>
<text transform="translate(323.10,229.16) scale(0.8689,1)" style="font-family:'Liberation Sans', sans-serif;font-weight:normal;font-style:normal;font-size:4.520px;font-kerning:none;font-variant-ligatures:none" fill="#7a7a7a">160</text>
<rect x="332.95" y="214.55" width="8.60" height="2.40" fill="#fff" stroke="#222" stroke-width="0.9"/>
<rect x="332.80" y="223.00" width="8.80" height="2.80" fill="#111"/>
<text transform="translate(342.54,217.55) scale(0.9783,1)" style="font-family:'Liberation Sans', sans-serif;font-weight:bold;font-style:normal;font-size:5.311px;font-kerning:none;font-variant-ligatures:none" fill="#1e1e1e" stroke="#1e1e1e" stroke-width="0.100">5 nM bortezomib</text>
<text transform="translate(342.54,225.95) scale(0.9747,1)" style="font-family:'Liberation Sans', sans-serif;font-weight:bold;font-style:normal;font-size:5.367px;font-kerning:none;font-variant-ligatures:none" fill="#1e1e1e" stroke="#1e1e1e" stroke-width="0.100">5 nM NPI-0052</text>
<rect x="355.75" y="279.35" width="30.80" height="2.30" fill="#fff" stroke="#222" stroke-width="0.9"/>
<line x1="370.90" y1="282.00" x2="370.90" y2="277.30" stroke="#333" stroke-width="0.9"/>
<line x1="369.40" y1="277.30" x2="372.40" y2="277.30" stroke="#333" stroke-width="0.9"/>
<rect x="387.30" y="247.20" width="31.80" height="34.90" fill="#1c1c1c"/>
<line x1="403.40" y1="247.20" x2="403.40" y2="236.10" stroke="#333" stroke-width="0.9"/>
<line x1="402.00" y1="236.10" x2="404.80" y2="236.10" stroke="#333" stroke-width="0.9"/>
<text transform="translate(361.88,275.26) scale(1.1725,1)" style="font-family:'Liberation Sans', sans-serif;font-weight:bold;font-style:normal;font-size:4.520px;font-kerning:none;font-variant-ligatures:none" fill="#222" stroke="#222" stroke-width="0.150">CI=1.06</text>
<text transform="translate(394.19,235.16) scale(1.1549,1)" style="font-family:'Liberation Sans', sans-serif;font-weight:bold;font-style:normal;font-size:4.520px;font-kerning:none;font-variant-ligatures:none" fill="#222" stroke="#222" stroke-width="0.150">CI=0.70</text>
<text transform="translate(371.92,288.56) scale(1.1252,1)" style="font-family:'Liberation Sans', sans-serif;font-weight:bold;font-style:normal;font-size:4.520px;font-kerning:none;font-variant-ligatures:none" fill="#333" stroke="#333" stroke-width="0.050">2.5 mM VPA</text>
<text transform="rotate(-90) translate(-295.70,317.51) scale(0.9579,1)" style="font-family:'Liberation Serif', serif;font-weight:normal;font-style:normal;font-size:6.066px;font-kerning:none;font-variant-ligatures:none" fill="#777">% increase in subdiploid population</text>
<line x1="54.10" y1="305.30" x2="106.46" y2="313.49" stroke="#bcbcbc" stroke-width="0.7"/>
<line x1="63.30" y1="295.00" x2="117.35" y2="303.46" stroke="#bcbcbc" stroke-width="0.7"/>
<line x1="72.50" y1="284.70" x2="128.24" y2="293.42" stroke="#bcbcbc" stroke-width="0.7"/>
<line x1="81.70" y1="274.40" x2="139.12" y2="283.38" stroke="#bcbcbc" stroke-width="0.7"/>
<line x1="68.80" y1="307.60" x2="96.40" y2="276.70" stroke="#d0d0d0" stroke-width="0.6"/>
<line x1="83.50" y1="309.90" x2="111.10" y2="279.00" stroke="#d0d0d0" stroke-width="0.6"/>
<line x1="98.20" y1="312.20" x2="125.80" y2="281.30" stroke="#d0d0d0" stroke-width="0.6"/>
<line x1="54.10" y1="305.30" x2="81.70" y2="274.40" stroke="#bcbcbc" stroke-width="0.7"/>
<line x1="104.50" y1="315.30" x2="139.00" y2="283.50" stroke="#999" stroke-width="0.8"/>
<line x1="63.30" y1="295.00" x2="78.00" y2="297.30" stroke="#3a3a3a" stroke-width="0.8"/>
<line x1="72.50" y1="284.70" x2="87.20" y2="287.00" stroke="#3a3a3a" stroke-width="0.8"/>
<line x1="81.70" y1="274.40" x2="89.05" y2="275.55" stroke="#3a3a3a" stroke-width="0.8"/>
<polygon points="83.91,274.75 84.20,272.80 84.49,270.85 84.78,269.82 85.08,269.73 85.37,269.64 85.66,269.56 85.96,269.47 86.25,269.38 86.54,269.29 86.84,269.21 87.13,269.12 87.42,269.03 87.72,268.95 88.01,268.86 88.30,268.77 88.59,268.69 88.89,268.60 89.18,268.54 89.47,268.51 89.77,268.48 90.06,268.45 90.35,268.42 90.65,268.39 90.94,268.36 91.23,268.33 91.53,268.31 91.82,268.28 92.11,268.25 92.40,268.22 92.70,268.19 92.99,268.16 93.28,268.13 93.58,268.10 93.87,268.07 94.16,268.05 94.46,268.02 94.75,267.99 95.04,267.93 95.34,267.82 95.63,267.71 95.92,267.61 96.21,267.50 96.51,267.39 96.80,267.28 97.09,266.52 97.39,265.65 97.68,264.78 97.97,263.91 98.27,263.04 98.56,262.17 98.85,261.30 99.15,260.43 99.44,259.56 99.73,258.69 100.02,257.82 100.32,256.00 100.61,253.98 100.90,251.96 101.20,249.94 101.49,247.92 101.78,246.05 102.08,244.50 102.37,242.95 102.66,241.40 102.96,240.74 103.25,240.30 103.54,239.86 103.83,239.64 104.13,239.95 104.42,240.26 104.71,240.69 105.01,241.40 105.30,242.11 105.59,242.82 105.89,243.53 106.18,244.89 106.47,246.46 106.77,248.03 107.06,249.59 107.35,250.62 107.64,251.47 107.94,252.32 108.23,253.18 108.52,254.03 108.82,254.88 109.11,255.73 109.40,256.54 109.70,257.34 109.99,258.15 110.28,258.95 110.58,259.75 110.87,260.56 111.16,260.95 111.45,260.86 111.75,260.77 112.04,260.69 112.33,261.67 112.63,263.11 112.92,264.07 113.21,262.97 113.51,261.86 113.80,260.76 114.09,260.11 114.39,261.53 114.68,262.94 114.97,264.35 115.26,264.15 115.56,263.15 115.85,262.15 116.14,261.15 116.44,261.54 116.73,262.67 117.02,263.80 117.32,264.61 117.61,263.51 117.90,262.41 118.20,261.31 118.49,260.49 118.78,261.59 119.07,262.68 119.37,263.77 119.66,264.62 119.95,263.70 120.25,262.77 120.54,261.85 120.83,261.15 121.13,262.36 121.42,263.56 121.71,264.56 122.01,263.61 122.30,262.66 122.59,261.71 122.88,260.93 123.18,261.97 123.47,263.01 123.76,263.88 124.06,262.63 124.35,261.37 124.64,261.93 124.94,263.04 125.23,264.15 125.52,265.26 125.82,266.36 126.11,267.47 126.40,268.51 126.69,269.50 126.99,270.49 127.28,271.47 127.57,272.46 127.87,273.45 128.16,274.43 128.45,275.42 128.75,276.41 129.04,277.30 129.33,278.10 129.63,278.89 129.92,279.69 130.21,280.49 130.50,281.28 130.80,282.08" fill="#141414" stroke="#141414" stroke-width="0.4"/>
<polygon points="82.79,286.31 83.02,286.03 83.25,285.76 83.48,285.48 83.71,285.20 83.94,284.93 84.17,284.65 84.40,284.37 84.63,284.10 84.86,283.82 85.09,283.50 85.32,283.12 85.55,282.74 85.78,282.36 86.01,281.98 86.24,281.60 86.47,281.22 86.69,280.84 86.92,280.46 87.15,280.08 87.38,279.28 87.61,278.37 87.84,277.47 88.07,276.57 88.30,275.66 88.53,274.76 88.76,273.86 88.99,272.95 89.22,272.05 89.45,271.15 89.68,270.08 89.91,268.72 90.14,267.37 90.37,266.01 90.60,264.65 90.83,263.30 91.06,261.94 91.29,260.59 91.52,259.23 91.75,258.01 91.98,256.87 92.21,255.74 92.44,254.60 92.67,253.46 92.90,252.33 93.13,251.34 93.36,250.94 93.59,250.54 93.81,250.13 94.04,250.61 94.27,251.08 94.50,251.56 94.73,253.22 94.96,255.17 95.19,257.13 95.42,259.09 95.65,261.05 95.88,263.01 96.11,265.10 96.34,267.40 96.57,269.70 96.80,272.00 97.03,274.30 97.26,276.59 97.49,277.61 97.72,278.36 97.95,279.11 98.18,279.86 98.41,280.61 98.64,281.07 98.87,281.26 99.10,281.46 99.33,281.65 99.56,281.84 99.79,282.03 100.02,282.22 100.25,282.42 100.48,282.59 100.71,282.71 100.94,282.82 101.16,282.94 101.39,283.05 101.62,283.16 101.85,283.28 102.08,283.39 102.31,283.51 102.54,283.62 102.77,283.73 103.00,283.85 103.23,283.96 103.46,284.07 103.69,284.15 103.92,284.24 104.15,284.33 104.38,284.42 104.61,284.51 104.84,284.59 105.07,284.68 105.30,284.77 105.53,284.86 105.76,284.85 105.99,284.83 106.22,284.80 106.45,284.77 106.68,284.75 106.91,284.72 107.14,284.69 107.37,284.67 107.60,284.64 107.83,284.65 108.06,284.79 108.29,284.93 108.52,285.07 108.74,285.21 108.97,285.35 109.20,285.49 109.43,285.63 109.66,285.77 109.89,285.91 110.12,286.01 110.35,286.09 110.58,286.17 110.81,286.25 111.04,286.33 111.27,286.40 111.50,286.48 111.73,286.56 111.96,286.64 112.19,286.72 112.42,286.80 112.65,286.88 112.88,286.95 113.11,287.03 113.34,287.15 113.57,287.31 113.80,287.47 114.03,287.63 114.26,287.78 114.49,287.94 114.72,288.10 114.95,288.26 115.18,288.41 115.41,288.57 115.64,288.73 115.87,288.88 116.09,289.09 116.32,289.29 116.55,289.49 116.78,289.70 117.01,289.90 117.24,290.10 117.47,290.30 117.70,290.51 117.93,290.71 118.16,290.91 118.39,291.10 118.62,291.29 118.85,291.48 119.08,291.68 119.31,291.87 119.54,292.06" fill="#6b6b6b" stroke="#4a4a4a" stroke-width="0.5"/>
<polygon points="74.32,296.73 74.53,296.48 74.74,296.23 74.95,295.98 75.15,295.73 75.36,295.48 75.57,295.23 75.77,294.98 75.98,294.73 76.19,294.48 76.39,294.24 76.60,293.92 76.81,293.49 77.01,293.05 77.22,292.62 77.43,292.18 77.63,291.74 77.84,291.31 78.05,290.87 78.25,290.43 78.46,290.00 78.67,289.56 78.87,288.69 79.08,287.59 79.29,286.50 79.49,285.41 79.70,284.32 79.91,283.22 80.11,282.13 80.32,281.04 80.53,279.95 80.73,278.85 80.94,277.76 81.15,276.39 81.35,275.01 81.56,273.64 81.77,272.26 81.97,270.89 82.18,269.52 82.39,268.14 82.59,266.77 82.80,265.39 83.01,264.69 83.21,264.19 83.42,263.69 83.63,263.20 83.83,262.70 84.04,262.28 84.25,262.81 84.45,263.35 84.66,263.88 84.87,264.42 85.07,265.02 85.28,266.31 85.49,267.60 85.69,268.89 85.90,270.18 86.11,271.47 86.31,272.76 86.52,274.04 86.73,275.33 86.93,276.62 87.14,278.67 87.35,281.03 87.55,283.39 87.76,285.75 87.97,287.57 88.18,288.44 88.38,289.31 88.59,290.18 88.80,291.06 89.00,291.93 89.21,292.18 89.42,292.35 89.62,292.52 89.83,292.70 90.04,292.87 90.24,293.04 90.45,293.22 90.66,293.39 90.86,293.56 91.07,293.74 91.28,293.89 91.48,293.98 91.69,294.08 91.90,294.17 92.10,294.26 92.31,294.36 92.52,294.45 92.72,294.54 92.93,294.64 93.14,294.73 93.34,294.82 93.55,294.92 93.76,295.01 93.96,295.10 94.17,295.20 94.38,295.29 94.58,295.38 94.79,295.48 95.00,295.57 95.20,295.66 95.41,295.76 95.62,295.85 95.82,295.96 96.03,296.07 96.24,296.18 96.44,296.30 96.65,296.41 96.86,296.52 97.06,296.63 97.27,296.74 97.48,296.86 97.68,296.97 97.89,297.08 98.10,297.19 98.30,297.30 98.51,297.42 98.72,297.53 98.92,297.64 99.13,297.75 99.34,297.86 99.54,297.98 99.75,298.09 99.96,298.20 100.16,298.31 100.37,298.42 100.58,298.54 100.78,298.65 100.99,298.76 101.20,298.87 101.41,298.98 101.61,299.10 101.82,299.21 102.03,299.32 102.23,299.43 102.44,299.54 102.65,299.66 102.85,299.77 103.06,299.88 103.27,299.99 103.47,300.10 103.68,300.22 103.89,300.33 104.09,300.44 104.30,300.55 104.51,300.66 104.71,300.75 104.92,300.84 105.13,300.93 105.33,301.01 105.54,301.10 105.75,301.19 105.95,301.28 106.16,301.37 106.37,301.46 106.57,301.55 106.78,301.63 106.99,301.72 107.19,301.81 107.40,301.90" fill="#9b9b9b" stroke="#6a6a6a" stroke-width="0.5"/>
<polygon points="67.33,307.37 67.47,307.04 67.61,306.72 67.74,306.39 67.88,306.06 68.02,305.74 68.16,305.41 68.29,305.08 68.43,304.65 68.57,304.13 68.71,303.61 68.85,303.09 68.98,302.57 69.12,302.05 69.26,301.53 69.40,301.01 69.53,300.49 69.67,299.97 69.81,299.45 69.95,298.93 70.09,298.41 70.22,297.89 70.36,297.37 70.50,296.85 70.64,296.33 70.78,295.81 70.91,295.29 71.05,294.67 71.19,293.83 71.33,292.99 71.46,292.15 71.60,291.31 71.74,290.47 71.88,289.63 72.02,288.79 72.15,287.96 72.29,287.12 72.43,286.28 72.57,285.44 72.70,284.60 72.84,283.76 72.98,282.92 73.12,282.08 73.26,281.25 73.39,280.41 73.53,279.53 73.67,278.52 73.81,277.51 73.94,276.50 74.08,275.50 74.22,274.49 74.36,273.48 74.50,272.47 74.63,271.46 74.77,270.45 74.91,269.89 75.05,269.65 75.19,269.40 75.32,269.15 75.46,268.90 75.60,268.65 75.74,268.40 75.87,268.54 76.01,268.98 76.15,269.42 76.29,269.85 76.43,270.29 76.56,270.73 76.70,272.01 76.84,273.50 76.98,274.99 77.11,276.48 77.25,277.97 77.39,279.46 77.53,280.80 77.67,281.91 77.80,283.02 77.94,284.13 78.08,285.24 78.22,286.35 78.36,287.46 78.49,288.57 78.63,289.69 78.77,290.80 78.91,291.91 79.04,293.02 79.18,294.13 79.32,295.24 79.46,296.38 79.60,297.55 79.73,298.71 79.87,299.88 80.01,301.05 80.15,302.22 80.28,303.38 80.42,304.55 80.56,305.72 80.70,306.89 80.84,307.04 80.97,307.13 81.11,307.21 81.25,307.30 81.39,307.38 81.52,307.47 81.66,307.55 81.80,307.64 81.94,307.72 82.08,307.81 82.21,307.89 82.35,307.98 82.49,308.06 82.63,308.15 82.77,308.24 82.90,308.32 83.04,308.41 83.18,308.49 83.32,308.58 83.45,308.66 83.59,308.75 83.73,308.83 83.87,308.92 84.01,309.00 84.14,309.09 84.28,309.17 84.42,309.26 84.56,309.34 84.69,309.43 84.83,309.51 84.97,309.55 85.11,309.59 85.25,309.63 85.38,309.67 85.52,309.71 85.66,309.75 85.80,309.79 85.93,309.83 86.07,309.87 86.21,309.91 86.35,309.95 86.49,309.99 86.62,310.03 86.76,310.07 86.90,310.11 87.04,310.14 87.17,310.18 87.31,310.22 87.45,310.26 87.59,310.30 87.73,310.34 87.86,310.38 88.00,310.42 88.14,310.46 88.28,310.50 88.42,310.54 88.55,310.58 88.69,310.62 88.83,310.66 88.97,310.70 89.10,310.74 89.24,310.78 89.38,310.82" fill="#bebebe" stroke="none" stroke-width="1"/>
<polyline points="54.10,305.30 67.33,307.37 67.47,307.04 67.61,306.72 67.74,306.39 67.88,306.06 68.02,305.74 68.16,305.41 68.29,305.08 68.43,304.65 68.57,304.13 68.71,303.61 68.85,303.09 68.98,302.57 69.12,302.05 69.26,301.53 69.40,301.01 69.53,300.49 69.67,299.97 69.81,299.45 69.95,298.93 70.09,298.41 70.22,297.89 70.36,297.37 70.50,296.85 70.64,296.33 70.78,295.81 70.91,295.29 71.05,294.67 71.19,293.83 71.33,292.99 71.46,292.15 71.60,291.31 71.74,290.47 71.88,289.63 72.02,288.79 72.15,287.96 72.29,287.12 72.43,286.28 72.57,285.44 72.70,284.60 72.84,283.76 72.98,282.92 73.12,282.08 73.26,281.25 73.39,280.41 73.53,279.53 73.67,278.52 73.81,277.51 73.94,276.50 74.08,275.50 74.22,274.49 74.36,273.48 74.50,272.47 74.63,271.46 74.77,270.45 74.91,269.89 75.05,269.65 75.19,269.40 75.32,269.15 75.46,268.90 75.60,268.65 75.74,268.40 75.87,268.54 76.01,268.98 76.15,269.42 76.29,269.85 76.43,270.29 76.56,270.73 76.70,272.01 76.84,273.50 76.98,274.99 77.11,276.48 77.25,277.97 77.39,279.46 77.53,280.80 77.67,281.91 77.80,283.02 77.94,284.13 78.08,285.24 78.22,286.35 78.36,287.46 78.49,288.57 78.63,289.69 78.77,290.80 78.91,291.91 79.04,293.02 79.18,294.13 79.32,295.24 79.46,296.38 79.60,297.55 79.73,298.71 79.87,299.88 80.01,301.05 80.15,302.22 80.28,303.38 80.42,304.55 80.56,305.72 80.70,306.89 80.84,307.04 80.97,307.13 81.11,307.21 81.25,307.30 81.39,307.38 81.52,307.47 81.66,307.55 81.80,307.64 81.94,307.72 82.08,307.81 82.21,307.89 82.35,307.98 82.49,308.06 82.63,308.15 82.77,308.24 82.90,308.32 83.04,308.41 83.18,308.49 83.32,308.58 83.45,308.66 83.59,308.75 83.73,308.83 83.87,308.92 84.01,309.00 84.14,309.09 84.28,309.17 84.42,309.26 84.56,309.34 84.69,309.43 84.83,309.51 84.97,309.55 85.11,309.59 85.25,309.63 85.38,309.67 85.52,309.71 85.66,309.75 85.80,309.79 85.93,309.83 86.07,309.87 86.21,309.91 86.35,309.95 86.49,309.99 86.62,310.03 86.76,310.07 86.90,310.11 87.04,310.14 87.17,310.18 87.31,310.22 87.45,310.26 87.59,310.30 87.73,310.34 87.86,310.38 88.00,310.42 88.14,310.46 88.28,310.50 88.42,310.54 88.55,310.58 88.69,310.62 88.83,310.66 88.97,310.70 89.10,310.74 89.24,310.78 89.38,310.82 112.90,314.50" fill="none" stroke="#2a2a2a" stroke-width="0.9"/>
<text transform="translate(134.21,270.80) scale(1.0280,1)" style="font-family:'Liberation Sans', sans-serif;font-weight:normal;font-style:normal;font-size:5.814px;font-kerning:none;font-variant-ligatures:none" fill="#222" stroke="#222" stroke-width="0.200">MF</text>
<line x1="134.40" y1="272.00" x2="143.00" y2="272.00" stroke="#333" stroke-width="0.7"/>
<text transform="translate(132.11,281.54) scale(0.9219,1)" style="font-family:'Liberation Sans', sans-serif;font-weight:normal;font-style:normal;font-size:6.215px;font-kerning:none;font-variant-ligatures:none" fill="#222" stroke="#222" stroke-width="0.200">279</text>
<text transform="translate(123.04,292.14) scale(0.9283,1)" style="font-family:'Liberation Sans', sans-serif;font-weight:normal;font-style:normal;font-size:6.497px;font-kerning:none;font-variant-ligatures:none" fill="#222" stroke="#222" stroke-width="0.200">137</text>
<text transform="translate(113.46,301.50) scale(0.9962,1)" style="font-family:'Liberation Sans', sans-serif;font-weight:normal;font-style:normal;font-size:6.105px;font-kerning:none;font-variant-ligatures:none" fill="#222" stroke="#222" stroke-width="0.200">47.1</text>
<text transform="translate(101.46,309.94) scale(1.0155,1)" style="font-family:'Liberation Sans', sans-serif;font-weight:normal;font-style:normal;font-size:6.019px;font-kerning:none;font-variant-ligatures:none" fill="#222" stroke="#222" stroke-width="0.200">45.5</text>
<text transform="translate(49.78,313.26) scale(1.0651,1)" style="font-family:'Liberation Sans', sans-serif;font-weight:normal;font-style:normal;font-size:3.955px;font-kerning:none;font-variant-ligatures:none" fill="#888" stroke="#888" stroke-width="0.200">10</text>
<text transform="translate(54.39,310.87) scale(1.0368,1)" style="font-family:'Liberation Sans', sans-serif;font-weight:normal;font-style:normal;font-size:2.825px;font-kerning:none;font-variant-ligatures:none" fill="#888" stroke="#888" stroke-width="0.200">0</text>
<text transform="translate(64.48,315.56) scale(1.0651,1)" style="font-family:'Liberation Sans', sans-serif;font-weight:normal;font-style:normal;font-size:3.955px;font-kerning:none;font-variant-ligatures:none" fill="#888" stroke="#888" stroke-width="0.200">10</text>
<text transform="translate(68.95,313.20) scale(1.1170,1)" style="font-family:'Liberation Sans', sans-serif;font-weight:normal;font-style:normal;font-size:2.907px;font-kerning:none;font-variant-ligatures:none" fill="#888" stroke="#888" stroke-width="0.200">1</text>
<text transform="translate(79.18,317.86) scale(1.0651,1)" style="font-family:'Liberation Sans', sans-serif;font-weight:normal;font-style:normal;font-size:3.955px;font-kerning:none;font-variant-ligatures:none" fill="#888" stroke="#888" stroke-width="0.200">10</text>
<text transform="translate(83.75,315.50) scale(1.0729,1)" style="font-family:'Liberation Sans', sans-serif;font-weight:normal;font-style:normal;font-size:2.864px;font-kerning:none;font-variant-ligatures:none" fill="#888" stroke="#888" stroke-width="0.200">2</text>
<text transform="translate(93.88,320.16) scale(1.0651,1)" style="font-family:'Liberation Sans', sans-serif;font-weight:normal;font-style:normal;font-size:3.955px;font-kerning:none;font-variant-ligatures:none" fill="#888" stroke="#888" stroke-width="0.200">10</text>
<text transform="translate(98.49,317.77) scale(1.0453,1)" style="font-family:'Liberation Sans', sans-serif;font-weight:normal;font-style:normal;font-size:2.825px;font-kerning:none;font-variant-ligatures:none" fill="#888" stroke="#888" stroke-width="0.200">3</text>
<text transform="translate(108.58,322.46) scale(1.0651,1)" style="font-family:'Liberation Sans', sans-serif;font-weight:normal;font-style:normal;font-size:3.955px;font-kerning:none;font-variant-ligatures:none" fill="#888" stroke="#888" stroke-width="0.200">10</text>
<text transform="translate(113.24,320.10) scale(0.9557,1)" style="font-family:'Liberation Sans', sans-serif;font-weight:normal;font-style:normal;font-size:2.907px;font-kerning:none;font-variant-ligatures:none" fill="#888" stroke="#888" stroke-width="0.200">4</text>
<text transform="translate(74.06,324.16) scale(0.7660,1)" style="font-family:'Liberation Sans', sans-serif;font-weight:normal;font-style:normal;font-size:5.461px;font-kerning:none;font-variant-ligatures:none" fill="#666" stroke="#666" stroke-width="0.200">HEt</text>
</svg>
</body></html>
